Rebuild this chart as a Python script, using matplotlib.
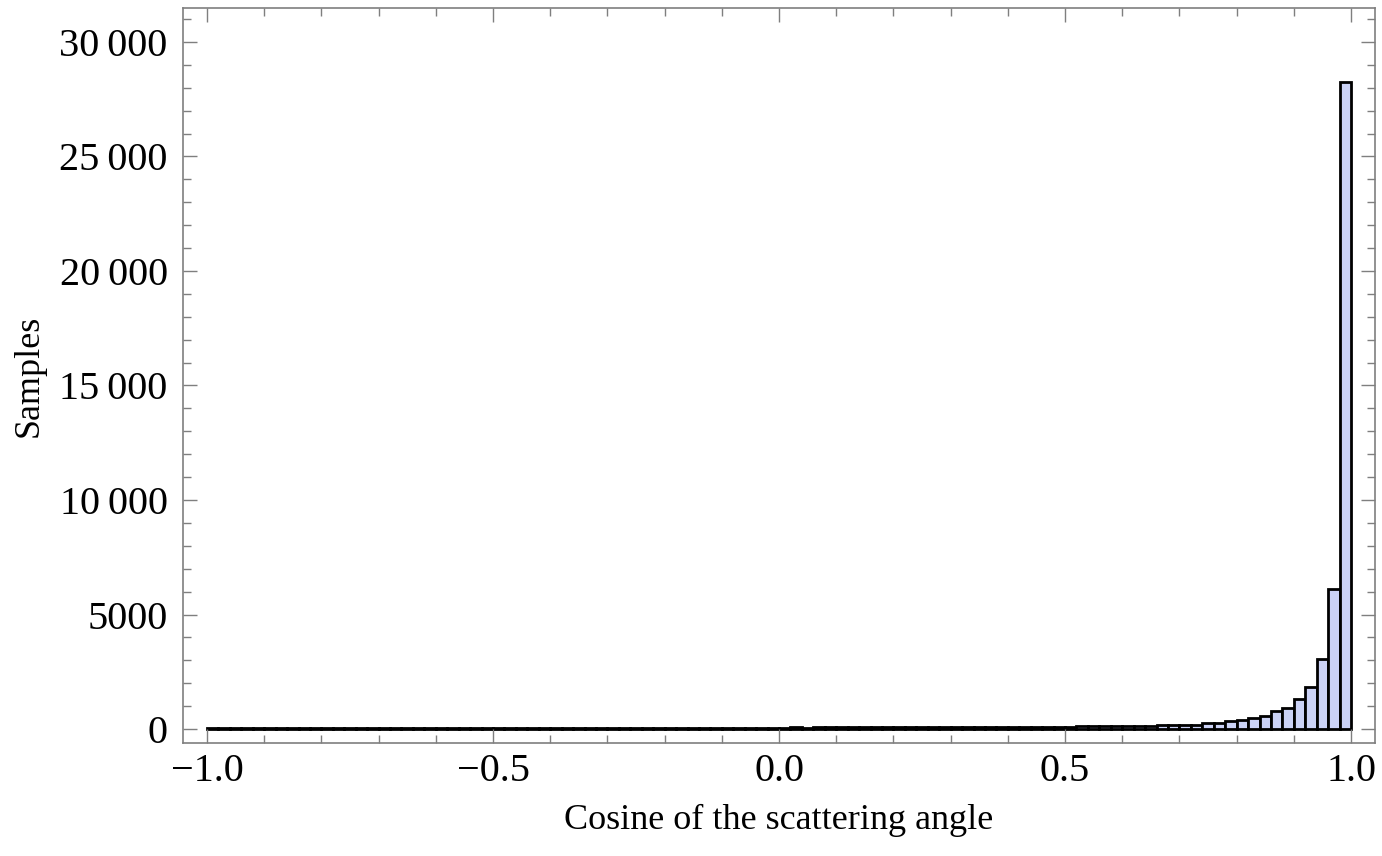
import matplotlib
matplotlib.use("Agg")
import matplotlib.pyplot as plt
import numpy as np
from matplotlib.ticker import MultipleLocator

# bin edges: 100 bins of width 0.02 from -1 to 1
bin_lo = -1.0
bin_width = 0.02

# counts, left to right
counts_neg = [
    28, 31, 29, 33, 30, 32, 35, 31, 34, 36,
    33, 37, 35, 38, 36, 40, 37, 39, 42, 38,
    41, 43, 40, 44, 46, 42, 45, 47, 44, 48,
    50, 46, 49, 52, 48, 53, 51, 55, 52, 56,
    54, 58, 55, 60, 57, 61, 59, 63, 62, 65,
]
counts_mid = [
    64, 67, 66, 70, 68, 72, 71, 75, 74, 78,
    77, 81, 80, 84, 83, 88, 87, 91, 90, 95,
    94, 99, 98, 104, 103,
]
counts_high = [108, 112, 117, 121, 127, 133, 140, 148, 157, 166]
counts_peak = [175, 195, 250, 277, 350, 393, 480, 580, 770, 930,
               1325, 1850, 3070, 6100, 28250]

xticks = [-1.0, -0.5, 0.0, 0.5, 1.0]
xtick_labels = ["\u22121.0", "\u22120.5", "0.0", "0.5", "1.0"]
yticks = [0, 5000, 10000, 15000, 20000, 25000, 30000]
ytick_labels = ["0", "5000", "10\u2009000", "15\u2009000", "20\u2009000",
                "25\u2009000", "30\u2009000"]

counts = np.array(counts_neg + counts_mid + counts_high + counts_peak, dtype=float)
lefts = bin_lo + bin_width * np.arange(len(counts))

plt.rcParams["font.family"] = ["Liberation Serif", "DejaVu Serif"]

fig = plt.figure(figsize=(13.82, 8.56), dpi=100)
ax = fig.add_axes([0.1324, 0.132, 0.8626, 0.8587])

ax.bar(lefts, counts, width=bin_width, align="edge",
       facecolor="#CBD2F6", edgecolor="black", linewidth=2.0)

ax.set_xlim(-1.042, 1.042)
ax.set_ylim(-611, 31485)

frame_col = "#7f7f7f"
for side in ax.spines.values():
    side.set_color(frame_col)
    side.set_linewidth(1.2)

ax.set_xticks(xticks)
ax.set_xticklabels(xtick_labels)
ax.set_yticks(yticks)
ax.set_yticklabels(ytick_labels)
ax.xaxis.set_minor_locator(MultipleLocator(0.1))
ax.yaxis.set_minor_locator(MultipleLocator(1000))

ax.tick_params(which="both", direction="in", top=True, right=True,
               color=frame_col, width=1.0, labelsize=29, labelcolor="black")
ax.tick_params(which="major", length=10)
ax.tick_params(which="minor", length=5.5)
ax.tick_params(axis="x", which="major", pad=7)
ax.tick_params(axis="y", which="major", pad=11)

ax.set_xlabel("Cosine of the scattering angle", fontsize=26, labelpad=10)
ax.set_ylabel("Samples", fontsize=26, labelpad=10)

fig.savefig("out.png", dpi=100)
